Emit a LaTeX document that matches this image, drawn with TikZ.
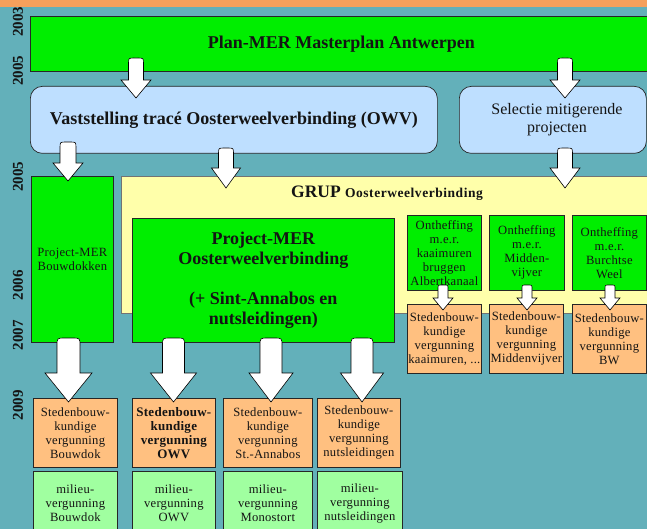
\documentclass[tikz,border=0pt]{standalone}
\usepackage{fontspec}
\setmainfont{Liberation Serif}
\newfontfamily\spacedfont[LetterSpace=2]{Liberation Serif}
\newfontfamily\spacedwide[LetterSpace=4]{Liberation Serif}
\definecolor{bgteal}{RGB}{99,176,186}
\definecolor{topband}{RGB}{246,160,92}
\definecolor{brgreen}{RGB}{0,238,0}
\definecolor{ltblue}{RGB}{190,223,255}
\definecolor{ltyellow}{RGB}{255,255,170}
\definecolor{ltorange}{RGB}{255,192,128}
\definecolor{ltgreen}{RGB}{160,255,160}
\definecolor{txt}{RGB}{20,20,20}
\newcommand{\blockarr}[7]{%
 \filldraw[blockarrow] ({#1-#5},#3) -- ({#1-#5},{#2+#7}) .. controls ({#1-#5},#2) .. ({#1-#5+#7},#2) -- ({#1+#5-#7},#2) .. controls ({#1+#5},#2) .. ({#1+#5},{#2+#7}) -- ({#1+#5},#3) -- ({#1+#6},#3) -- (#1,#4) -- ({#1-#6},#3) -- cycle;}
\tikzset{
 box/.style={draw=black!85, line width=0.7pt, align=center, inner sep=0pt, anchor=north west, text=txt},
 bigbold/.style={font=\fontsize{18}{20}\selectfont\bfseries},
 small/.style={font=\spacedfont\fontsize{12.6}{14}\selectfont},
 smallbold/.style={font=\spacedfont\fontsize{13}{14}\selectfont\bfseries},
 year/.style={font=\fontsize{15}{15}\selectfont\bfseries, rotate=90, text=txt, inner sep=0pt},
 blockarrow/.style={fill=white, draw=black, line width=0.6pt, line join=miter},
}
\begin{document}
\begin{tikzpicture}[x=1pt,y=-1pt]
\useasboundingbox (0,0) rectangle (647,529);
\clip (0,0) rectangle (647,529);
\fill[bgteal] (0,0) rectangle (647,529);
\fill[topband] (0,0) rectangle (647,7);
% top row
\node[box, fill=brgreen, minimum width=622pt, minimum height=55pt, bigbold] (plan) at (30,16) {Plan-MER Masterplan Antwerpen};
\node[box, fill=ltblue, rounded corners=12pt, minimum width=407pt, minimum height=67pt, bigbold] (vast) at (30,86) {Vaststelling tracé Oosterweelverbinding (OWV)};
\node[box, fill=ltblue, rounded corners=12pt, minimum width=187pt, minimum height=67pt] (sel) at (459,86) {};
\node[font=\fontsize{16}{18}\selectfont, text=txt, align=center] (seltext) at (557,119.5) {Selectie mitigerende\\projecten};
% middle
\node[box, fill=brgreen, minimum width=82pt, minimum height=166pt, small] (pmb) at (31,176) {Project-MER\\Bouwdokken};
\node[box, draw=black!55, line width=0.5pt, fill=ltyellow, minimum width=531pt, minimum height=137pt] (grup) at (121,176) {};
\node[text=txt, inner sep=0pt] (gruptitle) at (387,193) {\fontsize{17.5}{18}\selectfont\bfseries GRUP \spacedwide\fontsize{13.5}{14}\selectfont\bfseries Oosterweelverbinding};
\node[box, fill=brgreen, minimum width=262pt, minimum height=124pt, bigbold] (pmo) at (132,218) {Project-MER\\Oosterweelverbinding\\[20pt](+ Sint-Annabos en\\nutsleidingen)};
\node[box, fill=brgreen, minimum width=74pt, minimum height=75pt, small] (ont1) at (407,215) {Ontheffing\\m.e.r.\\kaaimuren\\bruggen\\Albertkanaal};
\node[box, fill=brgreen, minimum width=75pt, minimum height=75pt, small] (ont2) at (489,215) {Ontheffing\\m.e.r.\\Midden-\\vijver};
\node[box, fill=brgreen, minimum width=74pt, minimum height=75pt, small] (ont3) at (572,215) {Ontheffing\\m.e.r.\\Burchtse\\Weel};
\node[box, fill=ltorange, minimum width=74pt, minimum height=69pt, small] (st1) at (407,304) {Stedenbouw-\\kundige\\vergunning\\kaaimuren, ...};
\node[box, fill=ltorange, minimum width=74pt, minimum height=69pt, small] (st2) at (489,304) {Stedenbouw-\\kundige\\vergunning\\Middenvijver};
\node[box, fill=ltorange, minimum width=74pt, minimum height=69pt, small] (st3) at (572,304) {Stedenbouw-\\kundige\\vergunning\\BW};
% bottom
\node[box, fill=ltorange, minimum width=84pt, minimum height=69pt, small] (sb1) at (33,398) {Stedenbouw-\\kundige\\vergunning\\Bouwdok};
\node[box, fill=ltorange, minimum width=83pt, minimum height=69pt, smallbold] (sb2) at (132,398) {Stedenbouw-\\kundige\\vergunning\\OWV};
\node[box, fill=ltorange, minimum width=89pt, minimum height=69pt, small] (sb3) at (223,398) {Stedenbouw-\\kundige\\vergunning\\St.-Annabos};
\node[box, fill=ltorange, minimum width=83pt, minimum height=69pt, small] (sb4) at (317,398) {Stedenbouw-\\kundige\\vergunning\\nutsleidingen};
\node[box, fill=ltgreen, minimum width=84pt, minimum height=64pt, small] (mb1) at (33,471) {milieu-\\vergunning\\Bouwdok};
\node[box, fill=ltgreen, minimum width=83pt, minimum height=64pt, small] (mb2) at (132,471) {milieu-\\vergunning\\OWV};
\node[box, fill=ltgreen, minimum width=89pt, minimum height=64pt, small] (mb3) at (223,471) {milieu-\\vergunning\\Monostort};
\node[box, fill=ltgreen, minimum width=85pt, minimum height=64pt, small] (mb4) at (317,471) {milieu-\\vergunning\\nutsleidingen};
% block arrows
\blockarr{136}{58}{80}{98}{7.5}{15}{6}
\blockarr{565}{58}{80}{98}{7.5}{15}{6}
\blockarr{68}{142}{163}{181}{8}{15}{6}
\blockarr{226}{148}{168}{188}{7.5}{14.5}{6}
\blockarr{565}{148}{168}{188}{7.5}{15}{6}
\blockarr{443}{285}{298}{310}{5}{10}{4}
\blockarr{527}{285}{298}{310}{5}{10}{4}
\blockarr{610}{285}{298}{310}{5}{10}{4}
\blockarr{68.5}{338}{373}{402}{11.5}{23.5}{8}
\blockarr{173.5}{338}{373}{402}{11}{23}{8}
\blockarr{271}{338}{373}{402}{11}{22}{8}
\blockarr{362}{338}{373}{402}{11}{21.5}{8}
% years
\node[year] (y2003) at (18,22) {2003};
\node[year] (y2005a) at (18,71) {2005};
\node[year] (y2005b) at (18,177) {2005};
\node[year] (y2006) at (18,285) {2006};
\node[year] (y2007) at (18,335) {2007};
\node[year] (y2009) at (18,405) {2009};
\end{tikzpicture}
\end{document}
